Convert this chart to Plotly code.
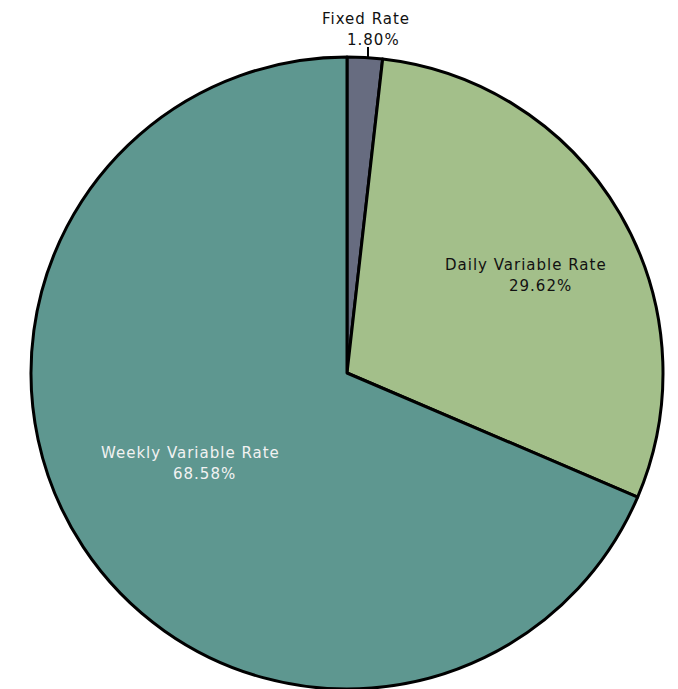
import plotly.graph_objects as go

# Rate type breakdown (share of total, %)
labels = ["Fixed Rate", "Daily Variable Rate", "Weekly Variable Rate"]
values = [1.80, 29.62, 68.58]
colors = ["#676C80", "#A3BF8A", "#5E9790"]
text_colors = ["#111111", "#111111", "#F2F2F2"]

W, H = 678, 689
cx, cy, r = 347, 373, 316  # pie centre / radius in pixels (from top-left)

fig = go.Figure(
    go.Pie(
        labels=labels,
        values=values,
        sort=False,
        direction="clockwise",
        rotation=0,
        marker=dict(colors=colors, line=dict(color="black", width=3)),
        textinfo="none",
        hoverinfo="label+percent",
        showlegend=False,
        domain=dict(
            x=[(cx - r) / W, (cx + r) / W],
            y=[max(0, (H - cy - r) / H), min(1, (H - cy + r) / H)],
        ),
    )
)

# label placement (pixel centres of name line and value line)
label_pos = [
    ((366, 19), (373, 40)),
    ((526, 265), (540, 286)),
    ((190, 453), (204, 474)),
]
font_family = "DejaVu Sans"
fsize = 15


def spaced(s):
    return f'<span style="letter-spacing:1px">{s}</span>'


for name, val, tc, ((nx, ny), (vx, vy)) in zip(labels, values, text_colors, label_pos):
    fig.add_annotation(
        x=nx / W, y=1 - ny / H, xref="paper", yref="paper",
        text=spaced(name), showarrow=False, xanchor="center", yanchor="middle",
        font=dict(family=font_family, size=fsize, color=tc),
    )
    fig.add_annotation(
        x=vx / W, y=1 - vy / H, xref="paper", yref="paper",
        text=spaced(f"{val:.2f}%"), showarrow=False, xanchor="center", yanchor="middle",
        font=dict(family=font_family, size=fsize, color=tc),
    )

# leader line from the small slice to its outside label
fig.add_shape(
    type="line", xref="paper", yref="paper",
    x0=368 / W, x1=368 / W, y0=1 - 47 / H, y1=1 - (cy - r + 1) / H,
    line=dict(color="black", width=2),
)

fig.update_layout(
    width=W, height=H,
    margin=dict(l=0, r=0, t=0, b=0),
    paper_bgcolor="white",
    plot_bgcolor="white",
)

fig.write_html("out.html")
